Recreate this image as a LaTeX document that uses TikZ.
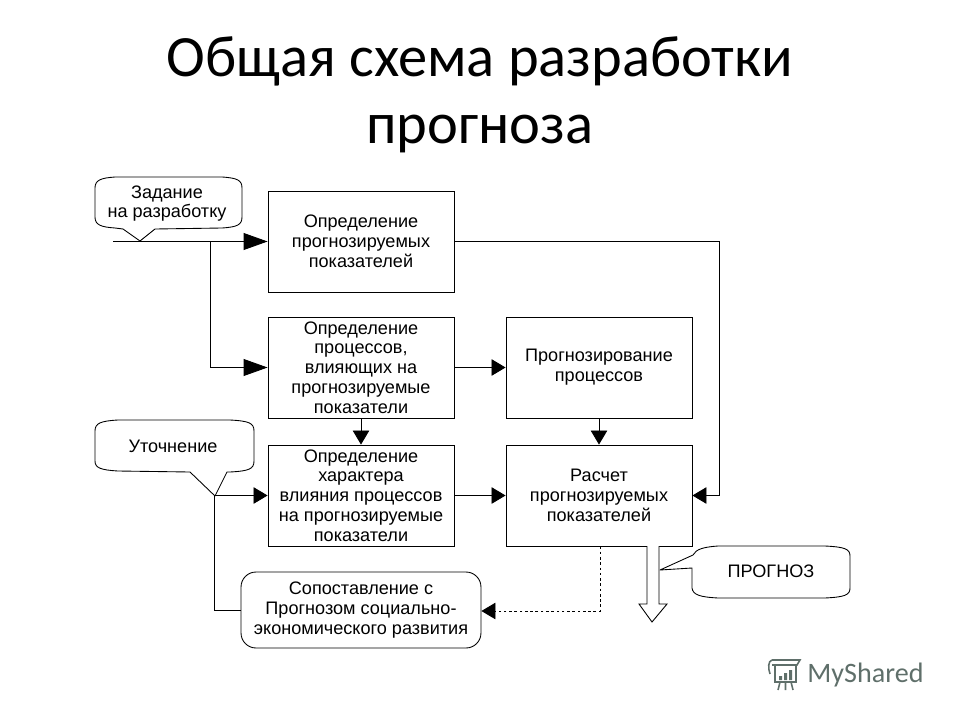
\documentclass[tikz,border=0pt]{standalone}
\usepackage{fontspec}
\setmainfont{Carlito}
\newfontfamily\boxfont{Liberation Sans}
\usetikzlibrary{arrows.meta}
\definecolor{markgray}{HTML}{5F6F6A}
\tikzset{
  box/.style={draw,minimum width=3.72cm,minimum height=2.02cm,inner sep=0pt,align=center,
    font=\boxfont\fontsize{10.3}{11.3}\selectfont},
  bubbletext/.style={inner sep=0pt,align=center,font=\boxfont\fontsize{10.3}{11.3}\selectfont},
  bubble/.style={line join=round},
  big/.style={-{Triangle[length=13.6pt,width=9.6pt]}},
  small/.style={-{Triangle[length=8pt,width=9.4pt]}}
}
\begin{document}
\begin{tikzpicture}[x=0.02cm,y=-0.02cm,line width=0.5pt]
  \useasboundingbox (0,0) rectangle (960,720);
  \node[align=center,font=\fontsize{33.3}{38}\selectfont] (title) at (480,95) {Общая схема разработки\\прогноза};
  % boxes
  \node[box] (b1) at (361,241.5) {Определение\\прогнозируемых\\показателей};
  \node[box] (b2) at (361,367.5) {Определение\\процессов,\\влияющих на\\прогнозируемые\\показатели};
  \node[box] (b3) at (599,367.5) {Прогнозирование\\процессов};
  \node[box] (b4) at (361,495.5) {Определение\\характера\\влияния процессов\\на прогнозируемые\\показатели};
  \node[box] (b5) at (599,495.5) {Расчет\\прогнозируемых\\показателей};
  \node[box,minimum width=4.8cm,minimum height=1.52cm,rounded corners=0.3cm] (b6) at (361,610) {Сопоставление с\\Прогнозом социально-\\экономического развития};
  % bubbles
  \draw[bubble] (95,188) .. controls (95,180) and (101,178) .. (115,177) -- (222,177)
    .. controls (237,178) and (242,180) .. (242,188) -- (242,217)
    .. controls (242,225) and (237,227) .. (222,228) -- (155,229) -- (140,241) -- (123,229) -- (115,228)
    .. controls (101,227) and (95,225) .. (95,217) -- cycle;
  \node[bubbletext] (task) at (167,203.5) {Задание\\на разработку};
  \draw[bubble] (95,431) .. controls (95,423) and (101,421) .. (118,420) -- (230,420)
    .. controls (249,421) and (254,423) .. (254,431) -- (254,461)
    .. controls (254,469) and (249,471) .. (230,472) -- (227,472) -- (215,496) -- (190,472) -- (118,471)
    .. controls (101,470) and (95,468) .. (95,461) -- cycle;
  \node[bubbletext] (refine) at (173,446) {Уточнение};
  % wide output arrow
  \coordinate (outa) at (647,546);
  \coordinate (outb) at (659,546);
  \draw[fill=white] (outa) -- (647,604) -- (639,604) -- (652,622) -- (667,604) -- (659,604) -- (outb);
  \draw[bubble,fill=white] (660,570) -- (693,555) .. controls (696,549) and (704,547) .. (718,546) -- (825,546)
    .. controls (845,547) and (850,549) .. (850,556) -- (850,588)
    .. controls (850,595) and (845,597) .. (825,598) -- (718,598)
    .. controls (700,597) and (693,595) .. (692,588) -- (692,568) -- cycle;
  \node[bubbletext] (result) at (771,571) {ПРОГНОЗ};
  % connectors
  \coordinate (start) at (113,241.5);
  \coordinate (fork) at (210,241.5);
  \coordinate (turn) at (719,241.5);
  \coordinate (join) at (214,495.5);
  \coordinate (dash) at (600,611);
  \draw[big] (start) -- (b1.west);
  \draw[big] (fork) |- (b2.west);
  \draw[small] (b1.east) -- (turn) |- (b5.east);
  \draw[small] (b2.east) -- (b3.west);
  \draw[small] (b2.south) -- (b4.north);
  \draw[small] (b3.south) -- (b5.north);
  \draw[small] (b4.east) -- (b5.west);
  \draw[small] (b6.west) -| (join) -- (b4.west);
  \draw[small,dash pattern=on 1.5pt off 1.5pt] (dash |- b5.south) -- (dash) -- (b6.east |- dash);
  % site mark
  \begin{scope}[markgray,line width=0.9pt]
    \draw (772,660) -- (800,660) -- (797,665) -- (772,665) (772,660) .. controls (768,661) and (768,668) .. (770,674);
    \draw (775,665) rectangle (796,682);
    \fill (779,676) rectangle (782,680) (784,673) rectangle (787,680) (789,670) rectangle (792,680);
    \draw (780,682) -- (778,690) (785.5,682) -- (785.5,690) (791,682) -- (793,690);
  \end{scope}
  \node[anchor=west,inner sep=0pt,text=markgray,font=\fontsize{16}{18}\selectfont] (mark) at (807,675) {MyShared};
\end{tikzpicture}
\end{document}
